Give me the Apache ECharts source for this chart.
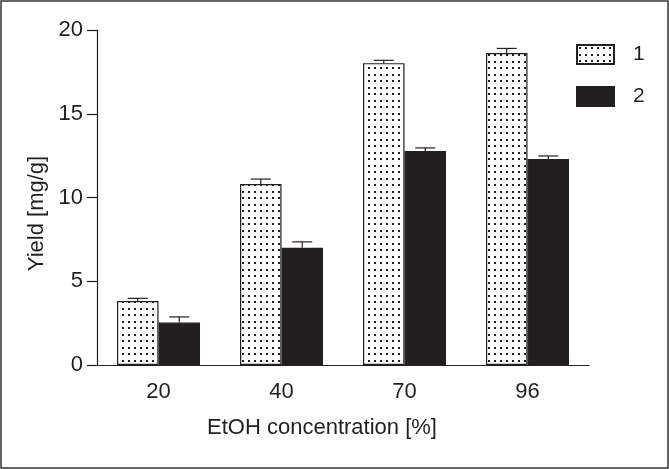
<!DOCTYPE html>
<html>
<head>
<meta charset="utf-8">
<script src="https://cdn.jsdelivr.net/npm/echarts@6/dist/echarts.min.js"></script>
<style>
html,body{margin:0;padding:0;background:#fff;}
#c{width:669px;height:469px;}
</style>
</head>
<body>
<div id="c"></div>
<script>
const categories = ['20', '40', '70', '96'];
const series1 = [3.82, 10.8, 18.02, 18.62];
const series1Err = [0.16, 0.3, 0.17, 0.28];
const series2 = [2.53, 7.0, 12.78, 12.3];
const series2Err = [0.34, 0.35, 0.18, 0.18];
const seriesNames = ['1', '2'];

const BAR_W = 41.5;
const FONT = 'Liberation Sans, Arial, sans-serif';
const TXT = '#231f20';

function makePattern() {
  const c = document.createElement('canvas');
  c.width = 6; c.height = 13;
  const g = c.getContext('2d');
  g.fillStyle = '#fff';
  g.fillRect(0, 0, 6, 13);
  g.fillStyle = '#231f20';
  g.fillRect(2, 2, 2, 2);
  g.fillRect(2, 9, 2, 2);
  return c;
}
const pattern = { image: makePattern(), repeat: 'repeat' };

function errSeries(vals, errs, side) {
  return {
    type: 'custom',
    silent: true,
    z: 5,
    data: vals.map((v, i) => [i, v, errs[i]]),
    renderItem: function (params, api) {
      const i = api.value(0), v = api.value(1), e = api.value(2);
      const base = api.coord([i, v]);
      const top = api.coord([i, v + e]);
      const x = base[0] + side * BAR_W / 2;
      const half = 10;
      return {
        type: 'group',
        children: [
          { type: 'line', shape: { x1: x, y1: base[1], x2: x, y2: top[1] }, style: { stroke: TXT, lineWidth: 1.2 } },
          { type: 'line', shape: { x1: x - half, y1: top[1], x2: x + half, y2: top[1] }, style: { stroke: TXT, lineWidth: 1.2 } }
        ]
      };
    }
  };
}

const chart = echarts.init(document.getElementById('c'), null, { renderer: 'canvas' });
chart.setOption({
  animation: false,
  backgroundColor: '#fff',
  grid: { left: 97, right: 80, top: 30, bottom: 104, containLabel: false },
  legend: {
    orient: 'vertical',
    left: 576, top: 44, padding: 0,
    itemWidth: 37, itemHeight: 19, itemGap: 21,
    textStyle: { fontFamily: FONT, fontSize: 21, color: TXT, padding: [0, 0, 0, 14] },
    data: [
      { name: seriesNames[0], icon: 'rect' },
      { name: seriesNames[1], icon: 'rect' }
    ]
  },
  xAxis: {
    type: 'category',
    data: categories,
    name: 'EtOH concentration [%]',
    nameLocation: 'middle',
    nameGap: 52,
    nameTextStyle: { fontFamily: FONT, fontSize: 22, color: TXT, padding: [0, 42, 0, 0] },
    axisLine: { lineStyle: { color: TXT, width: 1.2 } },
    axisTick: { alignWithLabel: true, length: 9, lineStyle: { color: TXT, width: 1.2 } },
    axisLabel: { fontFamily: FONT, fontSize: 22, color: TXT, margin: 16 },
    splitLine: { show: false }
  },
  yAxis: {
    type: 'value',
    min: 0, max: 20, interval: 5,
    name: 'Yield [mg/g]',
    nameLocation: 'middle',
    nameGap: 48,
    nameTextStyle: { fontFamily: FONT, fontSize: 22, color: TXT, padding: [0, 32, 0, 0] },
    axisLine: { show: true, lineStyle: { color: TXT, width: 1.2 } },
    axisTick: { show: true, length: 10, lineStyle: { color: TXT, width: 1.2 } },
    axisLabel: { fontFamily: FONT, fontSize: 22, color: TXT, margin: 14 },
    splitLine: { show: false }
  },
  series: [
    {
      name: seriesNames[0], type: 'bar', data: series1,
      barWidth: BAR_W, barGap: '0%',
      itemStyle: { color: pattern, borderColor: TXT, borderWidth: 1.2 }
    },
    {
      name: seriesNames[1], type: 'bar', data: series2,
      barWidth: BAR_W, barGap: '0%',
      itemStyle: { color: TXT, borderColor: TXT, borderWidth: 1.2 }
    },
    errSeries(series1, series1Err, -1),
    errSeries(series2, series2Err, 1)
  ],
  graphic: [
    { type: 'rect', shape: { x: 1, y: 1, width: 667, height: 467 }, style: { fill: 'none', stroke: '#333', lineWidth: 1.5 }, silent: true, z: 100 }
  ]
});
</script>
</body>
</html>
